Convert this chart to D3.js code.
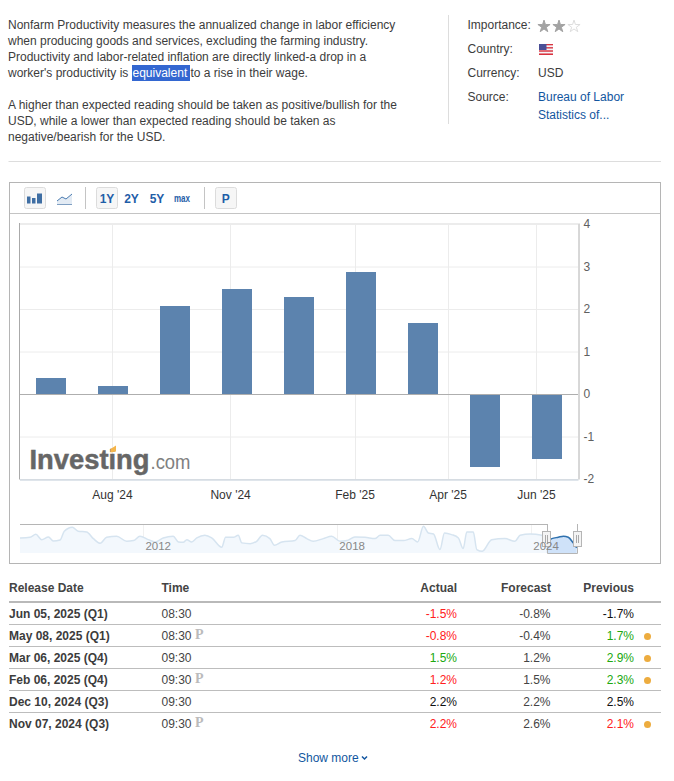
<!DOCTYPE html>
<html><head><meta charset="utf-8">
<script src="https://cdn.jsdelivr.net/npm/d3@7/dist/d3.min.js"></script>
<style>
html,body{margin:0;padding:0;background:#fff}
svg{display:block}
text{font-family:"Liberation Sans",Arial,sans-serif;font-size:12px}
</style></head><body><div id="c"></div>
<script>
// ---------- data ----------
const releaseDates=["2024-06-06","2024-08-01","2024-09-05","2024-11-07","2024-12-10","2025-02-06","2025-03-06","2025-05-08","2025-06-05"];
const productivity=[0.4,0.2,2.1,2.5,2.3,2.9,1.7,-1.7,-1.5];
const tickDates=["2024-07-31","2024-10-31","2025-01-31","2025-03-31","2025-05-31"];
const tickLabels=["Aug '24","Nov '24","Feb '25","Apr '25","Jun '25"];
const yTicks=[-2,-1,0,1,2,3,4];
const navYears=[2007.73,2008.04,2008.22,2008.40,2008.61,2008.76,2008.97,2009.10,2009.35,2009.53,2009.79,2010.00,2010.21,2010.41,2010.72,2011.03,2011.24,2011.44,2011.70,2011.91,2012.16,2012.47,2012.63,2012.78,2012.89,2013.04,2013.20,2013.45,2013.66,2013.97,2014.09,2014.33,2014.48,2014.59,2014.85,2015.05,2015.23,2015.46,2015.60,2015.83,2016.24,2016.39,2016.60,2016.80,2017.11,2017.37,2017.63,2017.84,2018.09,2018.40,2018.71,2018.87,2019.12,2019.33,2019.59,2019.85,2020.03,2020.21,2020.36,2020.52,2020.72,2020.86,2021.08,2021.29,2021.44,2021.55,2021.75,2021.86,2022.03,2022.32,2022.73,2023.04,2023.20,2023.51,2023.87,2024.02,2024.18,2024.38,2024.54,2024.69,2024.84,2024.95];
const navValues=[2.25,2.5,3.6,1.6,2.6,1.1,1.5,4.75,6.25,4.75,4.5,2.0,0.25,2.5,2.9,1.0,1.25,2.9,1.6,0.75,2.25,2.9,0.75,0.6,1.6,0.75,2.25,3.25,2.25,-1.25,2.5,2.5,3.25,0.4,0.1,1.0,3.25,2.0,-0.5,0.75,1.25,3.25,2.0,1.0,2.0,2.9,1.0,1.25,2.6,2.5,2.0,3.25,3.25,1.25,1.25,2.0,0.75,6.6,4.1,3.75,-2.1,4.1,3.5,2.25,-1.75,4.5,4.5,-2.1,-2.75,1.6,2.0,1.0,3.25,3.75,3.25,1.0,2.0,2.5,2.9,2.5,0.4,-1.5];
const navSelectedFrom=2024.02;
const navLabels=["2012","2018","2024"];
const navLabelYears=[2012.02,2018.02,2024.02];
const tableHeads=["Release Date","Time","Actual","Forecast","Previous"];
const tableDates=["Jun 05, 2025 (Q1)","May 08, 2025 (Q1)","Mar 06, 2025 (Q4)","Feb 06, 2025 (Q4)","Dec 10, 2024 (Q3)","Nov 07, 2024 (Q3)"];
const tableTimes=["08:30","08:30","09:30","09:30","09:30","09:30"];
const tablePrelim=[false,true,false,true,false,true];
const tableActual=["-1.5%","-0.8%","1.5%","1.2%","2.2%","2.2%"];
const tableActualState=["neg","neg","pos","neg","flat","neg"];
const tableForecast=["-0.8%","-0.4%","1.2%","1.5%","2.2%","2.6%"];
const tablePrevious=["-1.7%","1.7%","2.9%","2.3%","2.5%","2.1%"];
const tablePreviousState=["flat","pos","pos","pos","flat","neg"];
const tableRevised=[false,true,true,true,false,true];
const descLines=["Nonfarm Productivity measures the annualized change in labor efficiency","when producing goods and services, excluding the farming industry.","Productivity and labor-related inflation are directly linked-a drop in a"];
const descLines2=["A higher than expected reading should be taken as positive/bullish for the","USD, while a lower than expected reading should be taken as","negative/bearish for the USD."];

// ---------- page ----------
const svg=d3.select("#c").append("svg").attr("width",674).attr("height",781);
const parse=d3.utcParse("%Y-%m-%d");
const ink="#3c3c3c";
const txt=(s,x,y,o={})=>{const t=svg.append("text").attr("x",x).attr("y",y).text(s).attr("fill",o.fill||ink);
  if(o.anchor)t.attr("text-anchor",o.anchor); if(o.weight)t.attr("font-weight",o.weight); if(o.size)t.style("font-size",o.size+"px");
  if(o.family)t.style("font-family",o.family); if(o.len)t.attr("textLength",o.len).attr("lengthAdjust","spacingAndGlyphs"); return t;};
const line=(x1,y1,x2,y2,c,w=1,g=svg)=>g.append("line").attr("x1",x1).attr("y1",y1).attr("x2",x2).attr("y2",y2).attr("stroke",c).attr("stroke-width",w);

// description
descLines.forEach((s,i)=>txt(s,8,29+16*i));
txt("worker's productivity is ",8,77);
svg.append("rect").attr("x",132).attr("y",65).attr("width",58).attr("height",16).attr("fill","#3367d1");
txt("equivalent",132.5,77,{fill:"#fff"});
txt("to a rise in their wage.",190.5,77);
descLines2.forEach((s,i)=>txt(s,8,109+16*i));
line(8.5,161.5,661,161.5,"#ddd");

// side panel
line(448.5,15,448.5,124,"#ddd");
txt("Importance:",467.5,29); txt("Country:",467.5,53); txt("Currency:",467.5,77); txt("Source:",467.5,101);
txt("USD",538,77);
txt("Bureau of Labor",538,101,{fill:"#1256a0"}); txt("Statistics of...",538,119,{fill:"#1256a0"});
[0,1,2].forEach(i=>svg.append("path").attr("d",d3.symbol(d3.symbolStar,46)())
  .attr("transform",`translate(${544+15*i},26.5)`)
  .attr("fill",i<2?"#a3a3a3":"#fff").attr("stroke",i<2?"#a3a3a3":"#ddd"));
// flag
const flag=svg.append("g");
d3.range(7).forEach(i=>flag.append("rect").attr("x",539).attr("y",44+i*11/7).attr("width",14).attr("height",11/7).attr("fill",i%2?"#f4f4f8":"#d8333f"));
flag.append("rect").attr("x",539).attr("y",44).attr("width",7.5).attr("height",6).attr("fill","#4a4f96");

// chart frame and toolbar
svg.append("rect").attr("x",9.5).attr("y",182.5).attr("width",651).attr("height",381).attr("fill","#fff").attr("stroke","#b5b5b5");
line(10,213.5,660,213.5,"#c4c4c4");
const btn=(x)=>svg.append("rect").attr("x",x+.5).attr("y",187.5).attr("width",21).attr("height",21).attr("rx",2).attr("fill","#f6f6f6").attr("stroke","#dcdcdc");
btn(24);btn(96);btn(215);
line(85.5,187,85.5,209,"#c4c4c4"); line(204.5,187,204.5,209,"#c4c4c4");
[[27,196.5,3.5,7],[32,198,3.5,5.5],[37,193.5,5,10]].forEach(r=>svg.append("rect").attr("x",r[0]).attr("y",r[1]).attr("width",r[2]).attr("height",r[3]).attr("fill","#3f6ea3"));
svg.append("path").attr("d","M57,201L62,197L66,199L72,194L72,204L57,204Z").attr("fill","#e3ebf4");
svg.append("path").attr("d","M57,201L62,197L66,199L72,194").attr("fill","none").attr("stroke","#4a7bb0");
line(57,204.5,72,204.5,"#7f9fc2");
const blue="#1f5ea8";
txt("1Y",107,202.5,{fill:blue,weight:"bold",anchor:"middle"});
txt("2Y",131.5,202.5,{fill:blue,weight:"bold",anchor:"middle"});
txt("5Y",157,202.5,{fill:blue,weight:"bold",anchor:"middle"});
txt("max",182,201.5,{fill:blue,weight:"bold",anchor:"middle",size:10,len:16});
txt("P",225.7,202.5,{fill:blue,weight:"bold",anchor:"middle"});

// plot scales
const X0=20,X1=578,Y0=479.5,Y4=224.5;
const band=d3.scaleBand().domain(releaseDates).range([X0,X1]).paddingInner(32/62).paddingOuter(16/62);
const timeX=d3.scaleUtc().domain(releaseDates.map(parse)).range(releaseDates.map(d=>band(d)+band.bandwidth()/2));
const y=d3.scaleLinear().domain([-2,4]).range([Y0,Y4]);

// grid
const plot=svg.append("g");
yTicks.forEach(t=>{ if(t!==0) line(X0,y(t),X1,y(t),"#ececec",1,plot); });
line(X0,223.5,X1,223.5,"#ececec",1,plot);
tickDates.forEach(d=>{const px=Math.round(timeX(parse(d)))+.5; line(px,223.5,px,Y0,"#ececec",1,plot);});

// logo
const logo=svg.append("g");
logo.append("text").attr("x",29.5).attr("y",468.5).text("Investing").attr("fill","#666").attr("stroke","#666").attr("stroke-width",.5).attr("font-weight","bold").style("font-size","28px").attr("textLength",120).attr("lengthAdjust","spacingAndGlyphs");
logo.append("text").attr("x",150.5).attr("y",468.5).text(".com").attr("fill","#808080").style("font-size","21px").attr("textLength",40).attr("lengthAdjust","spacingAndGlyphs");
logo.append("path").attr("d","M110.5,449L116,445.5L116,451.5L110.5,452.5Z").attr("fill","#f5b54a");

// bars
svg.append("g").selectAll("rect").data(releaseDates).join("rect")
  .attr("x",d=>band(d)).attr("width",band.bandwidth())
  .attr("y",(d,i)=>productivity[i]>=0?Math.ceil(y(productivity[i])):y(0))
  .attr("height",(d,i)=>productivity[i]>=0?y(0)-Math.ceil(y(productivity[i])):Math.ceil(y(productivity[i]))-y(0))
  .attr("fill","#5c83ae");
line(X0,y(0),X1,y(0),"#aeaeae");
line(X0-.5,223,X0-.5,Y0,"#aaa");

// axes
const ax=svg.append("g").attr("transform",`translate(0,${Y0})`)
  .call(d3.axisBottom(timeX).tickValues(tickDates.map(parse)).tickFormat((d,i)=>tickLabels[i]).tickSize(0).tickPadding(11));
ax.select(".domain").attr("stroke","#c0ccd8").attr("d",`M${X0},0.5H${X1+.5}`);
ax.selectAll("text").attr("fill","#333").style("font-size","12px");
const ay=svg.append("g").attr("transform",`translate(${X1+.5},0)`)
  .call(d3.axisRight(y).tickValues(yTicks).tickFormat(d3.format("d")).tickSize(0).tickPadding(5));
ay.select(".domain").attr("stroke","#b0b0b0").attr("d",`M0.5,223.5V${Y0}`);
ay.selectAll("text").attr("fill","#606060").attr("dy","0.27em").style("font-size","12px").text(d=>String(d));

// navigator
const NX0=20,NX1=576.7,NT=525,NB=553;
const nx=d3.scaleLinear().domain([navYears[0],navYears[navYears.length-1]]).range([NX0,NX1]);
const ny=d3.scaleLinear().domain([-3.4,7.1]).range([NB,NT]);
const pts=navYears.map((t,i)=>[t,navValues[i]]);
const area=d3.area().x(d=>nx(d[0])).y0(NB).y1(d=>ny(d[1])).curve(d3.curveMonotoneX);
const lineGen=d3.line().x(d=>nx(d[0])).y(d=>ny(d[1])).curve(d3.curveMonotoneX);
const defs=svg.append("defs");
const SX=nx(navSelectedFrom);
defs.append("clipPath").attr("id","un").append("rect").attr("x",NX0).attr("y",NT-3).attr("width",SX-NX0).attr("height",NB-NT+3);
defs.append("clipPath").attr("id","se").append("rect").attr("x",SX).attr("y",NT-3).attr("width",NX1-SX+1).attr("height",NB-NT+3);
navLabelYears.forEach(t=>{const px=Math.round(nx(t))-15.5; line(px,525,px,NB,"#f1f1f1");});
const un=svg.append("g").attr("clip-path","url(#un)");
un.append("path").datum(pts).attr("d",area).attr("fill","#f3f8fd");
un.append("path").datum(pts).attr("d",lineGen).attr("fill","none").attr("stroke","#d6e4f0").attr("stroke-width",1.5);
const se=svg.append("g").attr("clip-path","url(#se)");
se.append("path").datum(pts).attr("d",area).attr("fill","#cfe2f9");
se.append("path").datum(pts).attr("d",lineGen).attr("fill","none").attr("stroke","#2f71ae").attr("stroke-width",1.5);
const hl="#b5b5b5", SXp=Math.round(SX)+.5, EXp=577.5;
line(NX0,524.5,SXp,524.5,hl);
line(SXp,524,SXp,553.5,hl);
line(SXp,553.5,EXp,553.5,hl);
line(EXp,524,EXp,553.5,hl);
[SXp-1,EXp].forEach(h=>{
  svg.append("rect").attr("x",h-4).attr("y",531.5).attr("width",8).attr("height",15).attr("fill","#f4f4f4").attr("stroke",hl);
  line(h-1,535,h-1,543,"#aaa"); line(h+1,535,h+1,543,"#aaa");
});
navLabels.forEach((s,i)=>txt(s,nx(navLabelYears[i])-.5,550,{fill:"#888",anchor:"middle",size:11.5}));

// table
const RIGHT={actual:457,forecast:551,previous:634};
const stateColor={neg:"#ff2020",pos:"#20a80f",flat:"#111"};
txt(tableHeads[0],9,592,{weight:"bold",fill:"#444"});
txt(tableHeads[1],161.5,592,{weight:"bold",fill:"#444"});
txt(tableHeads[2],RIGHT.actual,592,{weight:"bold",fill:"#444",anchor:"end"});
txt(tableHeads[3],RIGHT.forecast,592,{weight:"bold",fill:"#444",anchor:"end"});
txt(tableHeads[4],RIGHT.previous,592,{weight:"bold",fill:"#444",anchor:"end"});
line(9,602,661,602,"#b9b9b9",2);
tableDates.forEach((d,i)=>{
  const b=618+22*i;
  if(i>0) line(9,b-15.5,661,b-15.5,"#bdbdbd");
  txt(d,9,b,{weight:"bold"});
  txt(tableTimes[i],161.5,b,{fill:"#444"});
  if(tablePrelim[i]) txt("P",195,b-1,{fill:"#bbb",weight:"bold",size:14,family:"'Liberation Serif',serif"});
  txt(tableActual[i],RIGHT.actual,b,{fill:stateColor[tableActualState[i]],anchor:"end"});
  txt(tableForecast[i],RIGHT.forecast-.5,b,{fill:"#444",anchor:"end"});
  txt(tablePrevious[i],RIGHT.previous,b,{fill:stateColor[tablePreviousState[i]],anchor:"end"});
  if(tableRevised[i]) svg.append("circle").attr("cx",647.5).attr("cy",b-3.5).attr("r",3.5).attr("fill","#edac3f");
});
txt("Show more",298,762,{fill:"#1256a0"});
svg.append("path").attr("d","M362,756.5L364.5,759L367,756.5").attr("fill","none").attr("stroke","#1256a0").attr("stroke-width",1.5);
</script></body></html>
